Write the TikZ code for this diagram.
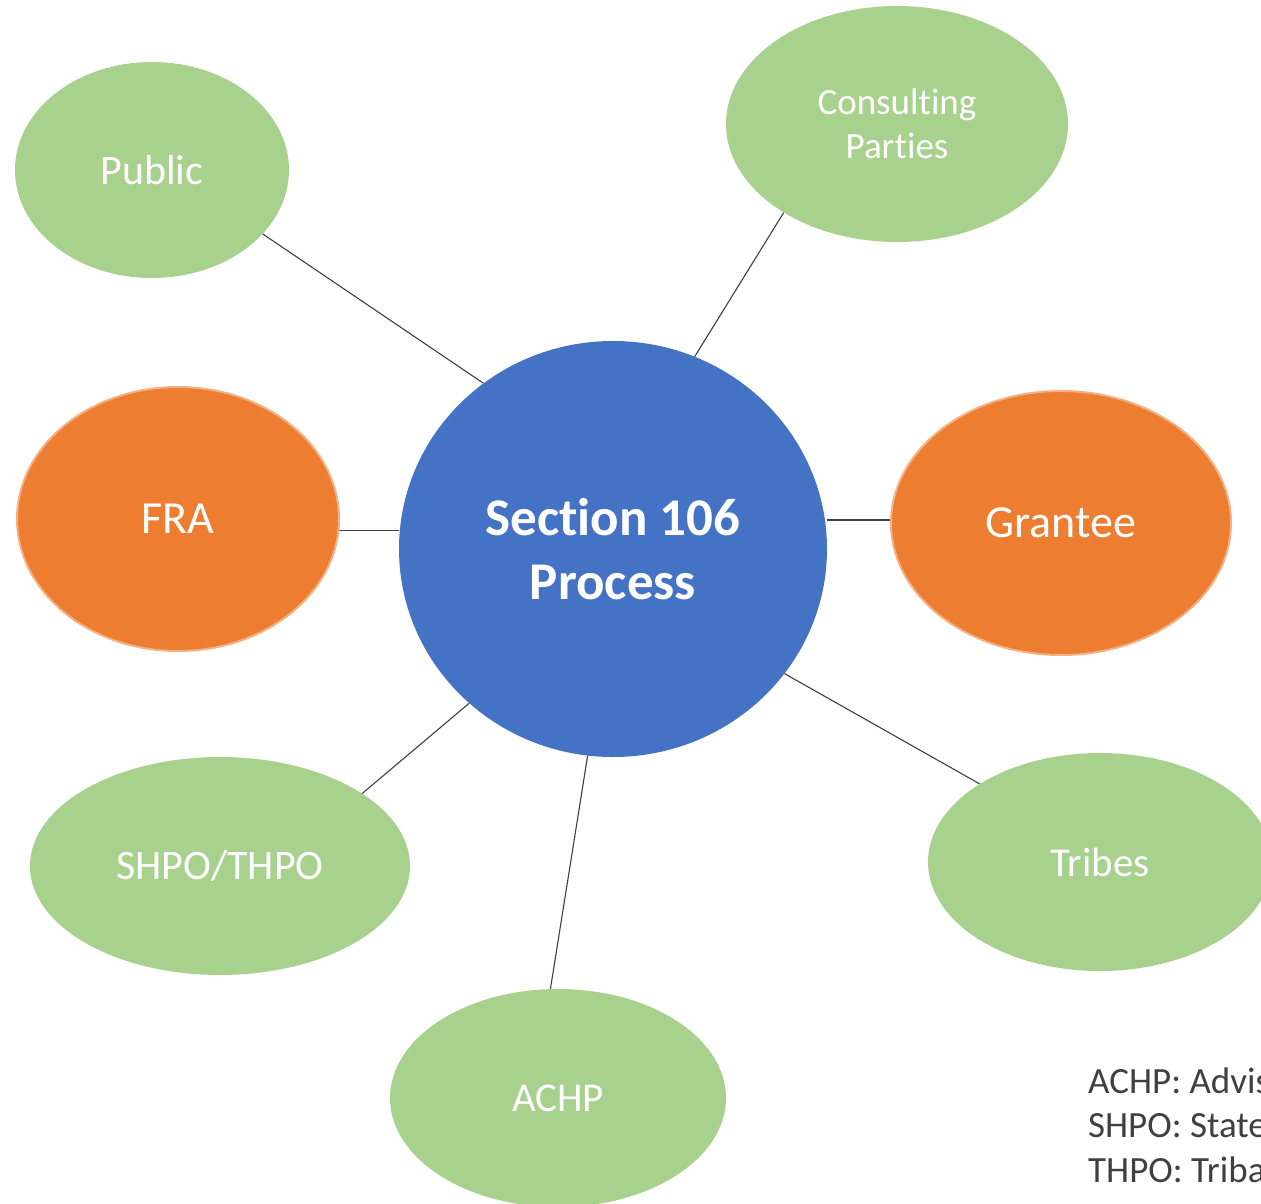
\documentclass[tikz,border=0pt]{standalone}
\usepackage{fontspec}
\setmainfont{Carlito}[RawFeature={-liga;-clig;-calt;-dlig}]
\usetikzlibrary{shapes.geometric,backgrounds}
\definecolor{lgreen}{HTML}{A9D18E}
\definecolor{dorange}{HTML}{ED7D31}
\definecolor{lorange}{HTML}{F4B183}
\definecolor{mblue}{HTML}{4472C4}
\definecolor{linegray}{HTML}{404040}
\definecolor{txtgray}{HTML}{404040}
\tikzset{
  bubble/.style={ellipse, inner sep=0pt, outer sep=0pt, text=white, align=center},
  greenbub/.style={bubble, fill=lgreen},
  orangebub/.style={bubble, fill=dorange, draw=lorange, line width=2pt},
  hub/.style={bubble, fill=mblue, font=\fontsize{53}{64}\selectfont\bfseries},
  link/.style={draw=linegray, line width=1.1pt},
  legend/.style={anchor=base west, inner sep=0pt, text=txtgray, font=\fontsize{37}{44}\selectfont}
}
\begin{document}
\begin{tikzpicture}[x=1pt,y=-1pt]
\useasboundingbox (0,0) rectangle (1261,1203);
\clip (0,0) rectangle (1261,1203);

\node[hub, minimum width=428pt, minimum height=416pt] (hub) at (613,549) {Section 106\\Process};

\node[greenbub, minimum width=274pt, minimum height=216pt, font=\fontsize{42}{50}\selectfont] (pub) at (152,170) {Public};
\node[greenbub, minimum width=342pt, minimum height=236pt, font=\fontsize{37}{44}\selectfont] (cons) at (897,124) {Consulting\\Parties};
\node[orangebub, minimum width=322pt, minimum height=264pt, font=\fontsize{46}{55}\selectfont] (fra) at (178,519) {FRA};
\node[orangebub, minimum width=340pt, minimum height=264pt, font=\fontsize{46}{55}\selectfont] (gra) at (1061,523) {Grantee};
\node[greenbub, minimum width=380pt, minimum height=218pt, font=\fontsize{42}{50}\selectfont] (shpo) at (220,866) {SHPO/THPO};
\node[greenbub, minimum width=344pt, minimum height=218pt, font=\fontsize{41}{49}\selectfont] (tri) at (1100,862) {Tribes};
\node[greenbub, minimum width=336pt, minimum height=218pt, font=\fontsize{41}{49}\selectfont] (achp) at (558,1098) {ACHP};

\begin{pgfonlayer}{background}
\fill[white] (0,0) rectangle (1261,1203);
\draw[link] (pub.-30.6) -- (hub.128.6);
\draw[link] (cons.-142.6) -- (hub.67.7);
\draw[link] (fra.-4.5) -- (fra.-4.5 -| hub.west);
\draw[link] (gra.179.3) -- (gra.179.3 -| hub.east);
\draw[link] (tri.147.7) -- (hub.-36);
\draw[link] (shpo.27.9) -- (hub.-133.3);
\draw[link] (achp.94.2) -- (hub.-97.7);
\end{pgfonlayer}

\node[legend] (l1) at (1088,1093) {ACHP: Advis};
\node[legend] (l2) at (1088,1137) {SHPO: State};
\node[legend] (l3) at (1088,1182) {THPO: Triba};
\end{tikzpicture}
\end{document}
